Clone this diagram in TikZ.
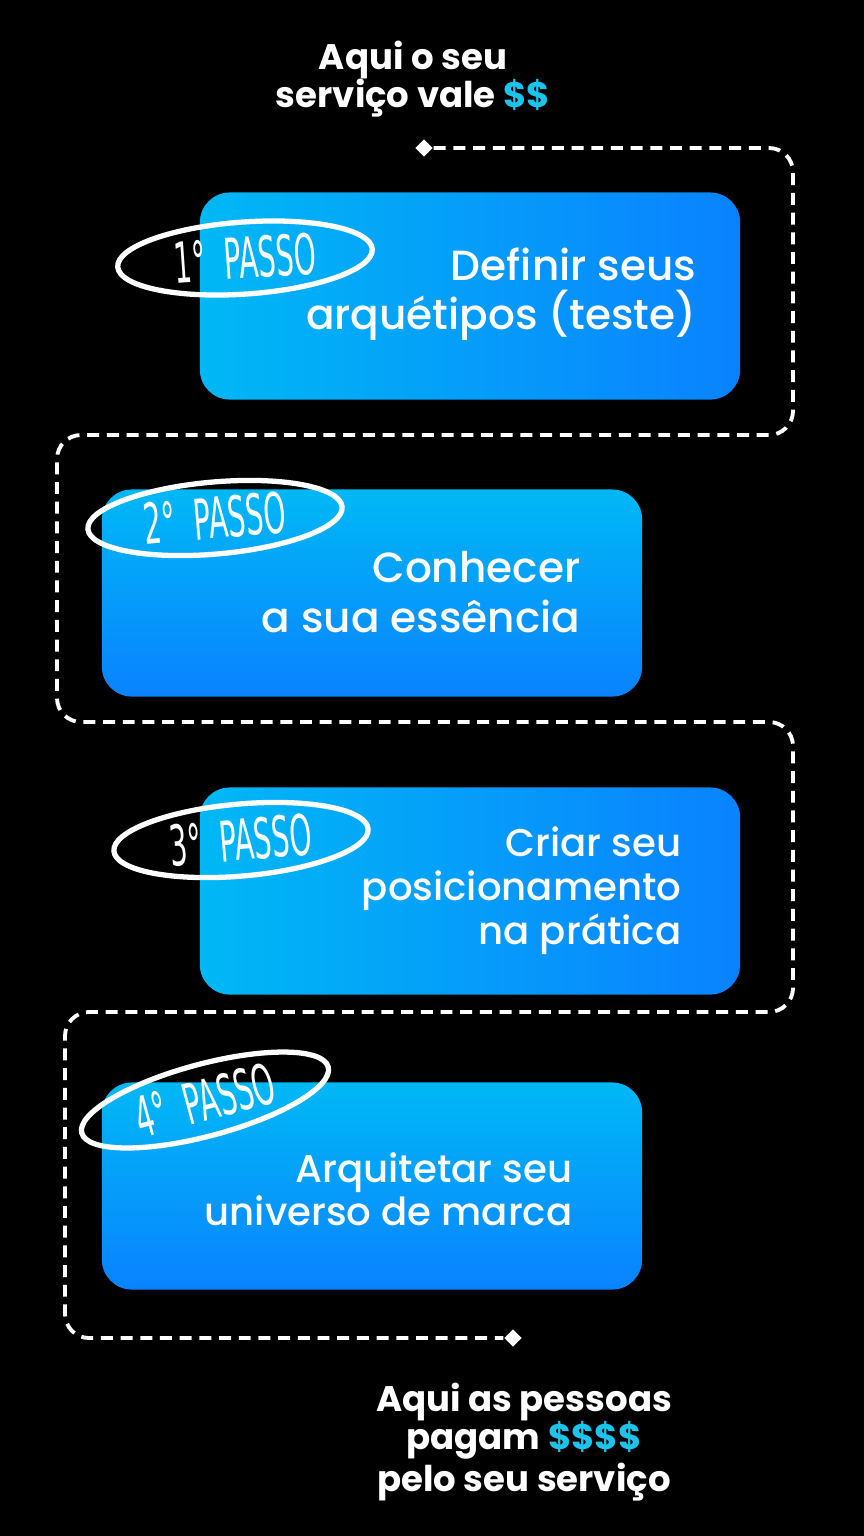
\documentclass[tikz,border=0pt]{standalone}
\usepackage{fontspec}
\setmainfont{Poppins}
\newfontfamily\medfont{Poppins Medium}
\newfontfamily\handfont{DejaVu Sans}[FakeStretch=0.5]
\usepackage{tikz}
\usetikzlibrary{shapes,calc,positioning}
\definecolor{ciano}{RGB}{0,184,245}
\definecolor{azul}{RGB}{10,130,255}
\definecolor{cifrao}{RGB}{28,195,235}

\begin{document}
\begin{tikzpicture}[x=0.01cm,y=-0.01cm]
\tikzstyle{caixa}=[rounded corners=0.3cm,minimum width=5.4cm,minimum height=2.07cm]
\tikzstyle{texto}=[text=white,anchor=east,align=right,inner sep=0pt,font=\medfont\fontsize{12}{14}\selectfont]
\tikzstyle{passo}=[draw=white,line width=1.5pt,ellipse,minimum width=2.55cm,minimum height=0.72cm,inner sep=0pt,text=white,font=\handfont\fontsize{16}{16}\selectfont]
\tikzstyle{frase}=[text=white,align=center,font=\bfseries\fontsize{10.1}{10.8}\selectfont]
\tikzstyle{losango}=[diamond,fill=white,minimum size=0.18cm,inner sep=0pt]
\fill[black] (0,0) rectangle (864,1536);

\node[frase] (topo) at (413,79) {Aqui o seu\\servi\c{c}o vale \textcolor{cifrao}{\$\$}};
\node[frase] (base) at (524,1442) {Aqui as pessoas\\pagam \textcolor{cifrao}{\$\$\$\$}\\pelo seu servi\c{c}o};

\node[losango] (ini) at (424,148) {};
\node[losango] (fim) at (513,1338) {};
\draw[white,line width=1.1pt,dash pattern=on 3.4pt off 2.2pt,rounded corners=0.24cm] (ini) -- (793,148) -- (793,435) -- (57,435) -- (57,722) -- (793,722) -- (793,1012) -- (65,1012) -- (65,1338) -- (fim);

\node[caixa,left color=ciano,right color=azul] (p1) at (470,296) {};
\node[caixa,top color=ciano,bottom color=azul] (p2) at (372,593) {};
\node[caixa,left color=ciano,right color=azul] (p3) at (470,891) {};
\node[caixa,top color=ciano,bottom color=azul] (p4) at (372,1186) {};

\node[texto] (t1) at (697,294) {Definir seus\\arqu\'etipos (teste)};
\node[texto] (t2) at (581,592) {Conhecer\\a sua ess\^encia};
\node[texto,font=\medfont\fontsize{11}{12.5}\selectfont] (t3) at (682,891) {Criar seu\\posicionamento\\na pr\'atica};
\node[texto,font=\medfont\fontsize{11}{12.3}\selectfont] (t4) at (573,1189) {Arquitetar seu\\universo de marca};

\node[passo,rotate=4] (e1) at (245,258) {1° \ PASSO};
\node[passo,rotate=5] (e2) at (215,518) {2° \ PASSO};
\node[passo,rotate=5] (e3) at (241,840) {3° \ PASSO};
\node[passo,rotate=15] (e4) at (205,1100) {4° \ PASSO};
\end{tikzpicture}
\end{document}
